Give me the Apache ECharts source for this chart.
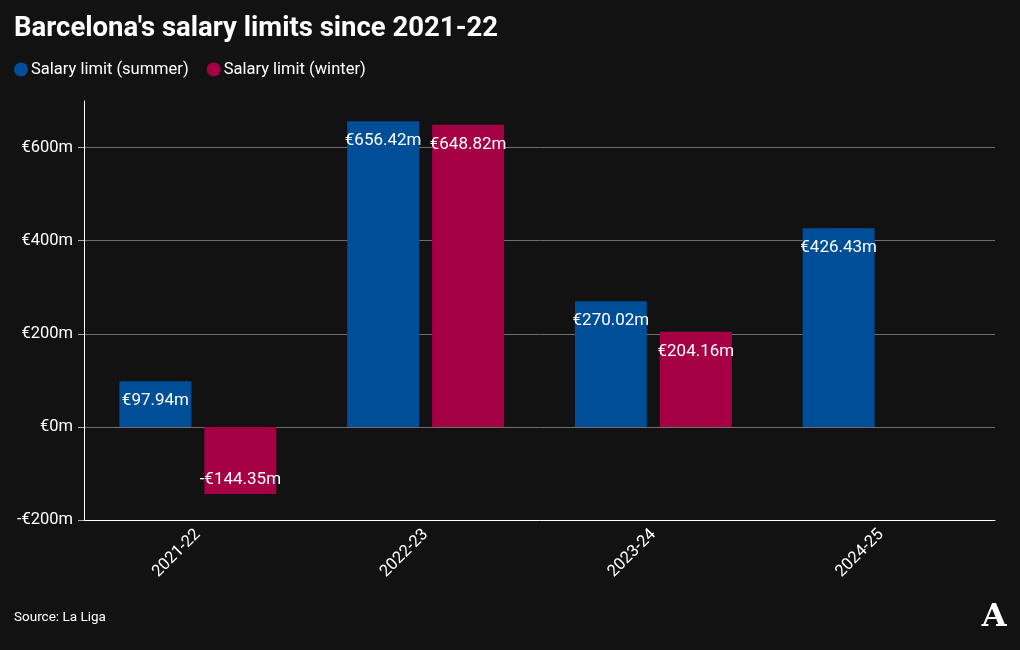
<!DOCTYPE html>
<html>
<head>
<meta charset="utf-8">
<script src="https://cdn.jsdelivr.net/npm/echarts@6/dist/echarts.min.js"></script>
<style>
html,body{margin:0;padding:0;background:#121212;}
#chart{width:1020px;height:650px;}
</style>
</head>
<body>
<div id="chart"></div>
<script>
const categories = ['2021-22', '2022-23', '2023-24', '2024-25'];
const summer = [97.94, 656.42, 270.02, 426.43];
const winter = [-144.35, 648.82, 204.16, null];
const yTicks = [-200, 0, 200, 400, 600];

const FONT = 'Roboto, "Liberation Sans", sans-serif';
function fmt(v) {
  return (v < 0 ? '-€' : '€') + Math.abs(v).toFixed(2) + 'm';
}
function toData(arr) {
  return arr.map(v => v === null ? null : {
    value: v,
    label: v < 0 ? { position: 'insideBottom', distance: 6 } : { position: 'insideTop', distance: 11 }
  });
}
const labelStyle = {
  show: true,
  color: '#ffffff',
  fontSize: 17,
  fontFamily: FONT,
  formatter: p => fmt(p.value)
};

const chart = echarts.init(document.getElementById('chart'), null, { renderer: 'canvas' });
chart.setOption({
  backgroundColor: '#121212',
  animation: false,
  title: {
    text: "Barcelona's salary limits since 2021-22",
    left: 9, top: 10,
    textStyle: { color: '#ffffff', fontSize: 27.5, fontWeight: 'bold', fontFamily: FONT }
  },
  legend: {
    left: 9, top: 56,
    icon: 'circle',
    itemWidth: 14, itemHeight: 14, itemGap: 18,
    textStyle: { color: '#ffffff', fontSize: 16.5, fontFamily: FONT, padding: [0, 0, 0, -2] },
    data: ['Salary limit (summer)', 'Salary limit (winter)']
  },
  grid: { left: 84, right: 25, top: 101, bottom: 130, containLabel: false },
  xAxis: {
    type: 'category',
    data: categories,
    axisLine: { onZero: false, lineStyle: { color: '#ffffff', width: 1 } },
    axisTick: { alignWithLabel: true, length: 6, lineStyle: { color: '#ffffff' } },
    axisLabel: { rotate: 45, color: '#ffffff', fontSize: 16.5, fontFamily: FONT, margin: 12 }
  },
  yAxis: {
    type: 'value',
    min: -200, max: 700, interval: 200,
    axisLine: { show: true, lineStyle: { color: '#ffffff', width: 1 } },
    axisTick: { show: true, length: 6, customValues: yTicks, lineStyle: { color: '#aaaaaa' } },
    axisLabel: {
      customValues: yTicks,
      color: '#ffffff', fontSize: 16.5, fontFamily: FONT, margin: 11,
      formatter: v => (v < 0 ? '-€' : '€') + Math.abs(v) + 'm'
    },
    splitLine: { show: true, lineStyle: { color: '#6e6e6e', width: 1 } }
  },
  series: [
    {
      name: 'Salary limit (summer)', type: 'bar',
      data: toData(summer),
      barWidth: '31.6%', barGap: '18%',
      itemStyle: { color: '#004d98' },
      label: labelStyle
    },
    {
      name: 'Salary limit (winter)', type: 'bar',
      data: toData(winter),
      barWidth: '31.6%', barGap: '18%',
      itemStyle: { color: '#a50044' },
      label: labelStyle
    }
  ],
  graphic: [
    {
      type: 'text', left: 14, top: 611,
      style: { text: 'Source: La Liga', fill: '#ffffff', fontSize: 13.5, fontFamily: FONT }
    },
    {
      type: 'text', right: 13, top: 601,
      style: { text: 'A', fill: '#ffffff', fontSize: 32, fontWeight: 'bold', fontFamily: '"DejaVu Serif", serif', stroke: '#121212', lineWidth: 0.8 }
    }
  ]
});
</script>
</body>
</html>
